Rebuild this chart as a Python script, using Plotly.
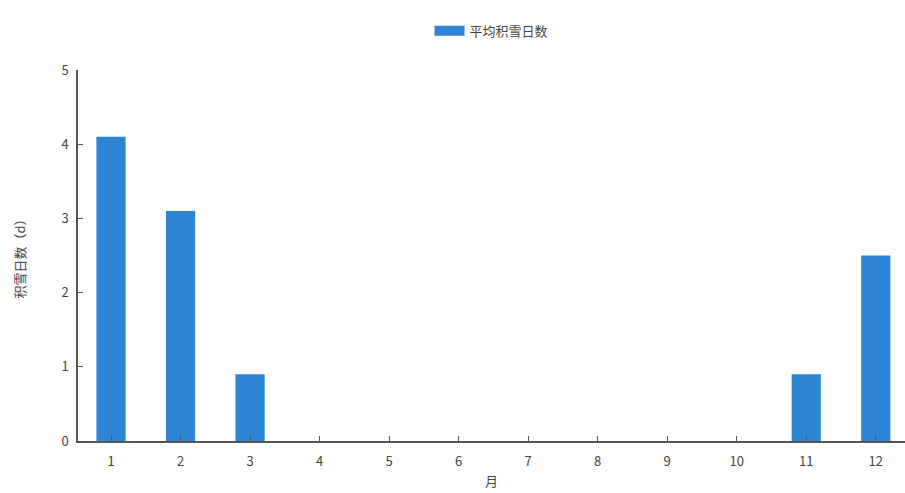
import plotly.graph_objects as go

months = list(range(1, 13))
tick_labels = [str(m) for m in months]
snow_days = [4.1, 3.1, 0.9, 0, 0, 0, 0, 0, 0, 0, 0.9, 2.5]
series_name = "平均积雪日数"
bar_color = "#2c86d5"

fig = go.Figure()
fig.add_trace(go.Bar(
    x=months, y=snow_days, name=series_name,
    marker=dict(color=bar_color, line=dict(width=0)),
    width=0.42, showlegend=False, legendgroup="s",
))
# legend entry drawn as a wide rectangle swatch
fig.add_trace(go.Scatter(
    x=[None], y=[None], mode="lines", name=series_name, legendgroup="s",
    line=dict(color=bar_color, width=10), showlegend=True,
))

font = dict(family="Noto Sans CJK SC, sans-serif", size=13, color="#444444")
fig.update_layout(
    width=905, height=493,
    margin=dict(l=78, r=0, t=70, b=52),
    paper_bgcolor="white", plot_bgcolor="white",
    font=font,
    showlegend=True,
    legend=dict(orientation="h", x=0.5, xanchor="center", y=1.065, yanchor="bottom",
                font=dict(size=13, color="#444444"), itemwidth=30),
    xaxis=dict(
        range=[0.525, 12.42], tickvals=months, ticktext=tick_labels,
        showline=True, linecolor="#555555", linewidth=1.5,
        ticks="inside", ticklen=5, tickcolor="#555555",
        ticklabelstandoff=8,
        showgrid=False, zeroline=False,
        title=dict(text="月", standoff=8, font=dict(size=13)),
    ),
    yaxis=dict(
        range=[0, 5], tickvals=[0, 1, 2, 3, 4, 5],
        showline=True, linecolor="#555555", linewidth=1.5,
        ticks="inside", ticklen=5, tickcolor="#555555",
        ticklabelstandoff=5,
        showgrid=False, zeroline=False,
        title=dict(text="积雪日数（d）", standoff=33, font=dict(size=13)),
    ),
)
fig.write_html("out.html")
